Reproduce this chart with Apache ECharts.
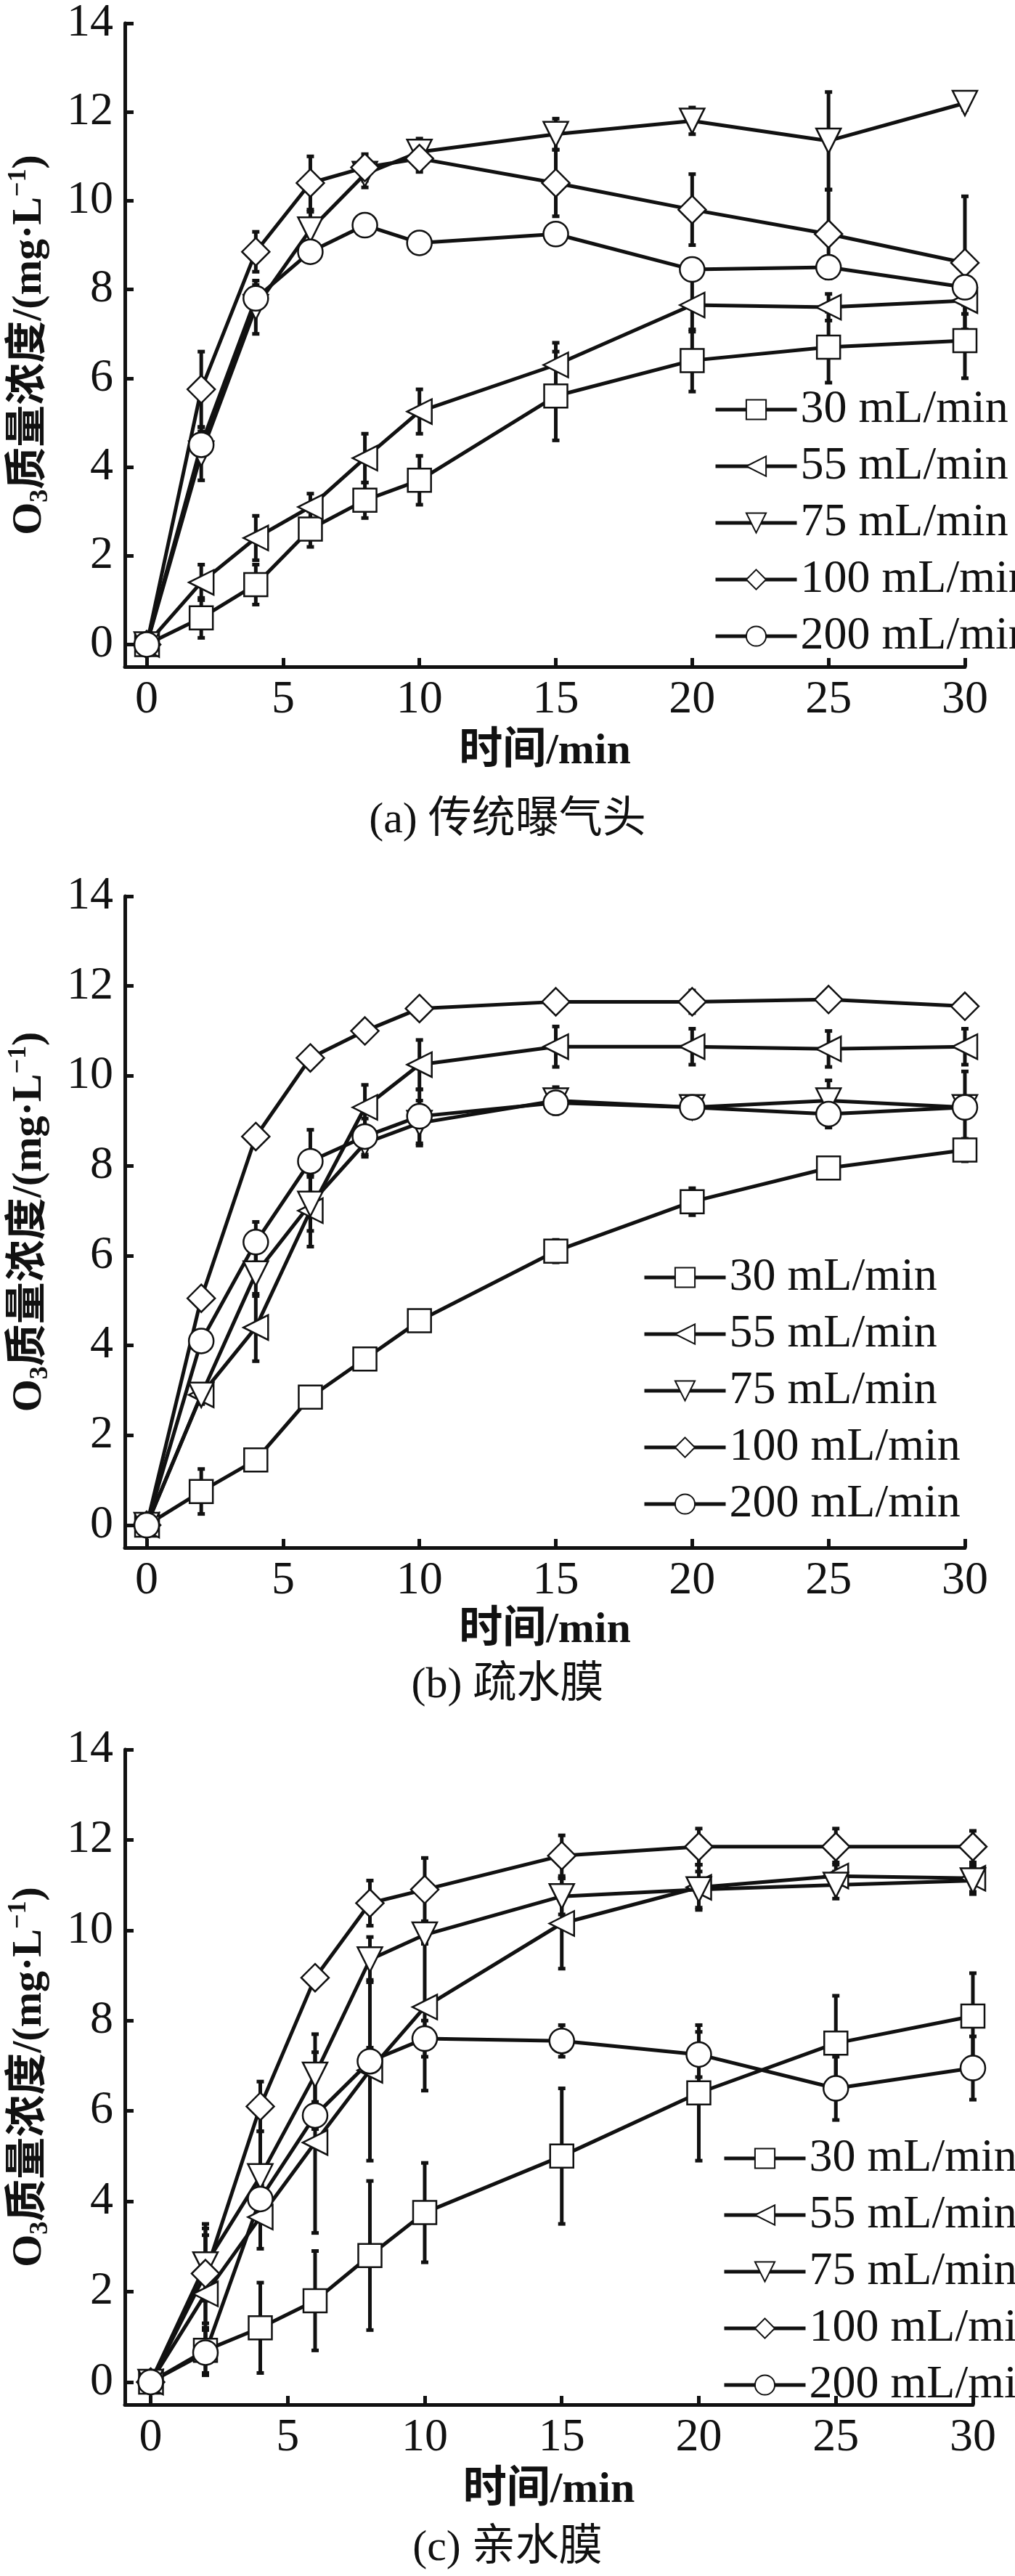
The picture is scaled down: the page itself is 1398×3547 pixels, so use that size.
<!DOCTYPE html>
<html><head><meta charset="utf-8">
<script src="https://cdn.jsdelivr.net/npm/echarts@6/dist/echarts.min.js"></script>
<style>html,body{margin:0;padding:0;background:#fff}#c{width:1398px;height:3547px}</style>
</head><body><div id="c"></div>
<script>
const times = [0, 2, 4, 6, 8, 10, 15, 20, 25, 30];
const seriesNames = ['30 mL/min', '55 mL/min', '75 mL/min', '100 mL/min', '200 mL/min'];
const xTicks = [0, 5, 10, 15, 20, 25, 30];
const yTicks = [0, 2, 4, 6, 8, 10, 12, 14];
const captions = ['(a) 传统曝气头', '(b) 疏水膜', '(c) 亲水膜'];

// Panel (a)
const a30 = [0, 0.6, 1.35, 2.6, 3.25, 3.7, 5.6, 6.4, 6.7, 6.85];
const a30e = [0.1, 0.45, 0.45, 0.4, 0.4, 0.55, 1.0, 0.7, 0.8, 0.85];
const a55 = [0, 1.4, 2.4, 3.1, 4.2, 5.25, 6.3, 7.65, 7.6, 7.75];
const a55e = [0.1, 0.4, 0.5, 0.3, 0.55, 0.5, 0.5, 0.6, 0.3, 0.3];
const a75 = [0, 4.3, 7.6, 9.35, 10.6, 11.1, 11.5, 11.8, 11.35, 12.2];
const a75e = [0.1, 0.6, 0.6, 0.4, 0.3, 0.3, 0.35, 0.3, 1.1, 0.15];
const a100 = [0, 5.75, 8.85, 10.4, 10.75, 10.95, 10.4, 9.8, 9.25, 8.6];
const a100e = [0.1, 0.85, 0.45, 0.6, 0.3, 0.3, 0.75, 0.8, 1.0, 1.5];
const a200 = [0, 4.5, 7.8, 8.85, 9.45, 9.05, 9.25, 8.45, 8.5, 8.05];
const a200e = [0.1, 0.3, 0.3, 0.2, 0.15, 0.15, 0.15, 0.15, 0.25, 0.4];
// Panel (b)
const b30 = [0, 0.75, 1.45, 2.85, 3.7, 4.55, 6.1, 7.2, 7.95, 8.35];
const b30e = [0.1, 0.5, 0.15, 0.15, 0.15, 0.15, 0.25, 0.3, 0.2, 0.25];
const b55 = [0, 2.9, 4.4, 7.0, 9.3, 10.25, 10.65, 10.65, 10.6, 10.65];
const b55e = [0.1, 0.2, 0.75, 0.8, 0.5, 0.55, 0.45, 0.4, 0.4, 0.4];
const b75 = [0, 2.9, 5.6, 7.15, 8.5, 8.95, 9.45, 9.3, 9.45, 9.3];
const b75e = [0.1, 0.2, 0.5, 0.6, 0.3, 0.5, 0.3, 0.15, 0.45, 0.8];
const b100 = [0, 5.05, 8.65, 10.4, 11.0, 11.5, 11.65, 11.65, 11.7, 11.55];
const b100e = [0.1, 0.2, 0.2, 0.2, 0.15, 0.15, 0.2, 0.25, 0.2, 0.2];
const b200 = [0, 4.1, 6.3, 8.1, 8.65, 9.1, 9.4, 9.3, 9.15, 9.3];
const b200e = [0.1, 0.2, 0.45, 0.7, 0.4, 0.6, 0.2, 0.15, 0.3, 0.2];
// Panel (c)
const c30 = [0, 0.7, 1.2, 1.8, 2.8, 3.75, 5.0, 6.4, 7.5, 8.1];
const c30e = [0.1, 0.5, 1.0, 1.1, 1.65, 1.1, 1.5, 1.5, 1.05, 0.95];
const c55 = [0, 1.95, 3.65, 5.3, 6.9, 8.3, 10.15, 10.95, 11.2, 11.15];
const c55e = [0.1, 1.3, 0.7, 2.0, 2.0, 1.85, 1.0, 0.5, 0.3, 0.3];
const c75 = [0, 2.6, 4.55, 6.8, 9.35, 9.9, 10.75, 10.9, 11.0, 11.1];
const c75e = [0.1, 0.8, 1.0, 0.9, 0.5, 0.2, 0.4, 0.4, 0.3, 0.3];
const c100 = [0, 2.4, 6.1, 8.95, 10.6, 10.9, 11.65, 11.85, 11.85, 11.85];
const c100e = [0.1, 1.1, 0.55, 0.2, 0.5, 0.7, 0.45, 0.4, 0.4, 0.35];
const c200 = [0, 0.65, 4.05, 5.9, 7.1, 7.6, 7.55, 7.25, 6.5, 6.95];
const c200e = [0.1, 0.5, 0.3, 0.3, 0.3, 0.4, 0.35, 0.5, 0.7, 0.7];

const panels = [
  {vals: [a30, a55, a75, a100, a200], errs: [a30e, a55e, a75e, a100e, a200e]},
  {vals: [b30, b55, b75, b100, b200], errs: [b30e, b55e, b75e, b100e, b200e]},
  {vals: [c30, c55, c75, c100, c200], errs: [c30e, c55e, c75e, c100e, c200e]}
];

const layout = [
  {top: 22, bottom: 918, left: 159, right: 1329, xmin: -0.8, legTop: 527, legLeft: 978, xname: 1035, cap: 1132},
  {top: 1234, bottom: 2131, left: 159, right: 1329, xmin: -0.8, legTop: 1722, legLeft: 880, xname: 2245, cap: 2323},
  {top: 2409, bottom: 3311, left: 159, right: 1340, xmin: -0.94, legTop: 2935, legLeft: 990, xname: 3429, cap: 3511}
];

const symbols = ['rect', 'triangle', 'triangle', 'diamond', 'circle'];
const rots = [0, 90, 180, 0, 0];
const sizes = [32, 34, 34, 38, 34];
const FONT = '"Liberation Serif","Noto Sans CJK SC",serif';
const ink = '#111';

const grids = [], xAxes = [], yAxes = [], series = [], legends = [], graphics = [];
layout.forEach((L, p) => {
  grids.push({left: L.left, top: L.top, width: L.right - L.left, height: L.bottom - L.top});
  xAxes.push({type: 'value', gridIndex: p, min: L.xmin, max: 30,
    axisLine: {onZero: false, lineStyle: {color: ink, width: 5}},
    axisTick: {customValues: xTicks, inside: true, length: 12, lineStyle: {width: 5, color: ink}},
    axisLabel: {customValues: xTicks, color: ink, fontSize: 64, fontFamily: FONT, margin: 14},
    splitLine: {show: false},
    name: '时间/min', nameLocation: 'middle', nameGap: L.xname - L.bottom - 30,
    nameTextStyle: {color: ink, fontSize: 60, fontFamily: FONT, fontWeight: 'bold'}});
  yAxes.push({type: 'value', gridIndex: p, min: -0.5, max: 14,
    axisLine: {show: true, onZero: false, lineStyle: {color: ink, width: 5}},
    axisTick: {show: true, inside: true, customValues: yTicks, length: 12, lineStyle: {width: 5, color: ink}},
    axisLabel: {customValues: yTicks, color: ink, fontSize: 64, fontFamily: FONT, margin: 16},
    splitLine: {show: false},
    name: 'O{sub|3}质量浓度/(mg·L{sup|−1})', nameLocation: 'middle', nameGap: 98,
    nameTextStyle: {color: ink, fontSize: 58, fontFamily: FONT, fontWeight: 'bold',
      rich: {sub: {fontSize: 36, verticalAlign: 'bottom', padding: [30, 0, 0, 0], fontFamily: FONT},
             sup: {fontSize: 36, verticalAlign: 'top', padding: [0, 0, 24, 0], fontFamily: FONT}}}});
  const P = panels[p];
  seriesNames.forEach((nm, s) => {
    const errData = times.map((t, i) => [t, P.vals[s][i] - P.errs[s][i], P.vals[s][i] + P.errs[s][i]]);
    series.push({type: 'custom', xAxisIndex: p, yAxisIndex: p, silent: true, z: 2,
      data: errData, encode: {x: 0, y: [1, 2]},
      renderItem: (params, api) => {
        const lo = api.coord([api.value(0), api.value(1)]);
        const hi = api.coord([api.value(0), api.value(2)]);
        const st = {stroke: ink, lineWidth: 5};
        return {type: 'group', children: [
          {type: 'line', shape: {x1: lo[0], y1: lo[1], x2: hi[0], y2: hi[1]}, style: st},
          {type: 'line', shape: {x1: lo[0] - 5, y1: lo[1], x2: lo[0] + 5, y2: lo[1]}, style: st},
          {type: 'line', shape: {x1: hi[0] - 5, y1: hi[1], x2: hi[0] + 5, y2: hi[1]}, style: st}
        ]};
      }});
    series.push({type: 'line', name: nm, xAxisIndex: p, yAxisIndex: p, z: 3,
      data: times.map((t, i) => [t, P.vals[s][i]]),
      symbol: symbols[s], symbolRotate: rots[s], symbolSize: sizes[s], showAllSymbol: true,
      lineStyle: {color: ink, width: 5}, itemStyle: {color: '#fff', borderColor: ink, borderWidth: 2.5},
      animation: false});
  });
  legends.push({orient: 'vertical', left: L.legLeft, top: L.legTop, itemWidth: 112, itemHeight: 34, itemGap: 14,
    data: seriesNames, lineStyle: {width: 5, color: ink},
    textStyle: {color: ink, fontSize: 64, fontFamily: FONT, lineHeight: 64}, selectedMode: false});
  graphics.push({type: 'text', left: 'center', top: L.cap - 32,
    style: {text: captions[p], fontSize: 60, fontFamily: FONT, fill: ink}});
});

const chart = echarts.init(document.getElementById('c'));
chart.setOption({backgroundColor: '#fff', animation: false, grid: grids, xAxis: xAxes, yAxis: yAxes,
  series: series, legend: legends, graphic: graphics});
</script></body></html>
